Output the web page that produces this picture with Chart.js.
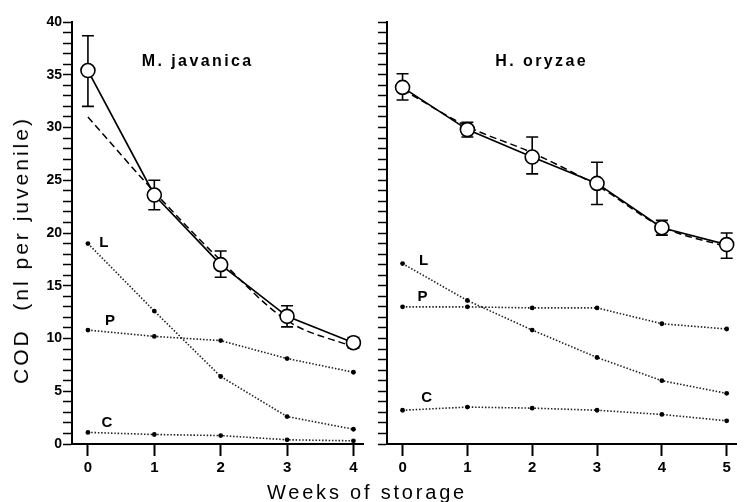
<!DOCTYPE html>
<html><head><meta charset="utf-8">
<script src="https://cdn.jsdelivr.net/npm/chart.js@4/dist/chart.umd.min.js"></script>
<style>
html,body{margin:0;padding:0;background:#fff;}
#wrap{position:relative;width:745px;height:502px;overflow:hidden;background:#fff;}
#cA{position:absolute;left:0;top:0;}
#cB{position:absolute;left:372px;top:0;}
.ytitle{position:absolute;left:21px;top:250px;transform:translate(-50%,-50%) rotate(-90deg);font-family:"Liberation Sans",Arial,sans-serif;font-size:21px;letter-spacing:3px;white-space:pre;color:#000;line-height:22px;}
.xtitle{position:absolute;left:367px;top:482px;transform:translateX(-50%);font-family:"Liberation Sans",Arial,sans-serif;font-size:20px;letter-spacing:2.8px;white-space:pre;color:#000;line-height:20px;}
</style>
</head><body>
<div id="wrap">
<canvas id="cA" width="372" height="502"></canvas>
<canvas id="cB" width="373" height="502"></canvas>
<div class="ytitle">COD  (nl per juvenile)</div>
<div class="xtitle">Weeks of storage</div>
</div>
<script>
// ---- data ----
const weeksMJ = [0, 1, 2, 3, 4];
const weeksHO = [0, 1, 2, 3, 4, 5];
const panelTitles = ['M. javanica', 'H. oryzae'];
const seriesLabels = ['L', 'P', 'C'];

const mjTotal     = [35.4, 23.6, 17.0, 12.1, 9.6];
const mjTotalLow  = [32.0, 22.2, 15.8, 11.1, 9.1];
const mjTotalHigh = [38.7, 25.0, 18.3, 13.1, 10.1];
const mjFit       = [31.0, 23.9, 17.4, 11.7, 9.2];
const mjL         = [19.0, 12.6, 6.4, 2.6, 1.4];
const mjP         = [10.8, 10.2, 9.8, 8.1, 6.8];
const mjC         = [1.1, 0.9, 0.8, 0.4, 0.3];

const hoTotal     = [33.8, 29.8, 27.2, 24.7, 20.5, 18.9];
const hoTotalLow  = [32.6, 29.1, 25.6, 22.7, 19.8, 17.6];
const hoTotalHigh = [35.1, 30.5, 29.1, 26.7, 21.2, 20.0];
const hoFit       = [33.6, 30.1, 27.6, 24.5, 20.6, 18.7];
const hoL         = [17.1, 13.6, 10.8, 8.2, 6.0, 4.8];
const hoP         = [13.0, 13.0, 12.9, 12.9, 11.4, 10.9];
const hoC         = [3.2, 3.5, 3.4, 3.2, 2.8, 2.2];

const yMajorTicks = [0, 5, 10, 15, 20, 25, 30, 35, 40];
const yMinorStep = 1;

// ---- helpers ----
const FONT = '"Liberation Sans", Arial, sans-serif';
const pts = (xs, ys) => xs.map((x, i) => ({x: x, y: ys[i]}));
const yTickValues = [];
for (let v = yMajorTicks[0]; v <= yMajorTicks[yMajorTicks.length - 1]; v += yMinorStep) yTickValues.push(v);

const errorBarPlugin = {
  id: 'errbars',
  beforeDatasetsDraw(chart, args, o) {
    const ctx = chart.ctx, x = chart.scales.x, y = chart.scales.y;
    ctx.save();
    ctx.strokeStyle = '#000';
    ctx.lineWidth = 1.6;
    o.xs.forEach((xv, i) => {
      const px = x.getPixelForValue(xv);
      const t = y.getPixelForValue(o.high[i]);
      const b = y.getPixelForValue(o.low[i]);
      ctx.beginPath();
      ctx.moveTo(px, t); ctx.lineTo(px, b);
      ctx.moveTo(px - o.cap, t); ctx.lineTo(px + o.cap, t);
      ctx.moveTo(px - o.cap, b); ctx.lineTo(px + o.cap, b);
      ctx.stroke();
    });
    ctx.restore();
  }
};

const textPlugin = {
  id: 'texts',
  afterDatasetsDraw(chart, args, o) {
    const ctx = chart.ctx, x = chart.scales.x, y = chart.scales.y, ca = chart.chartArea;
    ctx.save();
    ctx.fillStyle = '#000';
    ctx.textBaseline = 'middle';
    ctx.textAlign = 'center';
    if ('letterSpacing' in ctx) ctx.letterSpacing = '2.4px';
    ctx.font = 'bold 16px ' + FONT;
    ctx.fillText(o.title, (ca.left + ca.right) / 2 + o.titleDx, ca.top + o.titleDy);
    if ('letterSpacing' in ctx) ctx.letterSpacing = '0px';
    ctx.font = 'bold 15px ' + FONT;
    o.labels.forEach(l => {
      const d = chart.data.datasets[l.ds].data[0];
      ctx.fillText(l.text, x.getPixelForValue(d.x) + l.dx, y.getPixelForValue(d.y) + l.dy);
    });
    ctx.restore();
  }
};

function makeConfig(weeks, total, low, high, fit, L, P, C, title, xmin, xmax, yWidth, padRight, showYLabels, labelOffsets) {
  const dotted = (data) => ({
    data: pts(weeks, data), borderColor: '#222', borderWidth: 1.6, borderDash: [1.5, 1.8],
    pointRadius: 2.4, pointBackgroundColor: '#000', pointBorderWidth: 0, tension: 0, fill: false
  });
  return {
    type: 'line',
    data: {
      datasets: [
        { data: pts(weeks, total), borderColor: '#000', borderWidth: 1.7, pointRadius: 7,
          pointBackgroundColor: '#fff', pointBorderColor: '#000', pointBorderWidth: 1.6, tension: 0, fill: false },
        { data: pts(weeks, fit), borderColor: '#000', borderWidth: 1.5, borderDash: [7, 4],
          pointRadius: 0, tension: 0.3, cubicInterpolationMode: 'monotone', fill: false },
        dotted(L), dotted(P), dotted(C)
      ]
    },
    options: {
      responsive: false, animation: false, devicePixelRatio: 1,
      layout: { padding: { top: 22, right: padRight, left: 0, bottom: 0 } },
      plugins: {
        legend: { display: false }, tooltip: { enabled: false }, title: { display: false },
        errbars: { xs: weeks, low: low, high: high, cap: 6 },
        texts: { title: title, titleDx: -20, titleDy: 40, labels: labelOffsets }
      },
      scales: {
        x: {
          type: 'linear', min: xmin, max: xmax,
          afterBuildTicks: s => { s.ticks = weeks.map(v => ({value: v})); },
          afterFit: s => { s.height = 58; },
          ticks: { color: '#000', font: { family: FONT, size: 15, weight: 'bold' }, padding: 3,
                   autoSkip: false, maxRotation: 0, callback: v => String(v) },
          grid: { drawOnChartArea: false, drawTicks: true, tickLength: 12, tickWidth: 2, tickColor: '#000' },
          border: { display: true, color: '#000', width: 2 }
        },
        y: {
          type: 'linear', min: yMajorTicks[0], max: yMajorTicks[yMajorTicks.length - 1],
          afterBuildTicks: s => { s.ticks = yTickValues.map(v => ({value: v})); },
          afterFit: s => { s.width = yWidth; },
          ticks: { color: '#000', font: { family: FONT, size: 14, weight: 'bold' }, padding: 1, autoSkip: false,
                   callback: v => (showYLabels && yMajorTicks.includes(v)) ? String(v) : '' },
          grid: { drawOnChartArea: false, drawTicks: true, tickLength: 9, tickWidth: 1.5, tickColor: '#000' },
          border: { display: true, color: '#000', width: 2 }
        }
      }
    },
    plugins: [errorBarPlugin, textPlugin]
  };
}

new Chart(document.getElementById('cA'), makeConfig(
  weeksMJ, mjTotal, mjTotalLow, mjTotalHigh, mjFit, mjL, mjP, mjC, panelTitles[0],
  -0.24, 4.15, 72, 7, true,
  [ {ds: 2, text: seriesLabels[0], dx: 16, dy: -1},
    {ds: 3, text: seriesLabels[1], dx: 22, dy: -9},
    {ds: 4, text: seriesLabels[2], dx: 19, dy: -10} ]
));

new Chart(document.getElementById('cB'), makeConfig(
  weeksHO, hoTotal, hoTotalLow, hoTotalHigh, hoFit, hoL, hoP, hoC, panelTitles[1],
  -0.24, 5.15, 15, 0, false,
  [ {ds: 2, text: seriesLabels[0], dx: 21, dy: -3},
    {ds: 3, text: seriesLabels[1], dx: 20, dy: -10},
    {ds: 4, text: seriesLabels[2], dx: 24, dy: -12} ]
));
</script>
</body></html>
